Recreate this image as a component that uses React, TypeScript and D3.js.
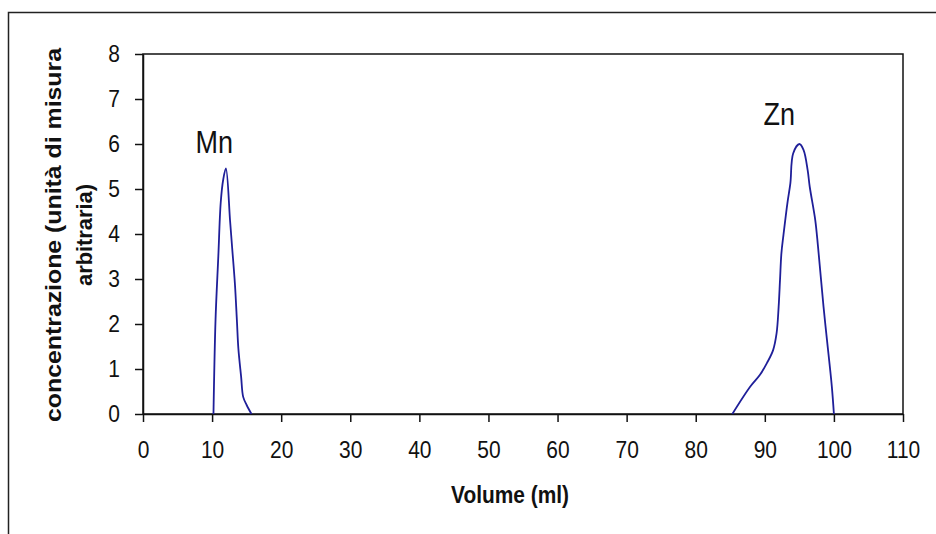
import { useEffect, useRef } from "react";
import * as d3 from "d3";

// Mn peak (volume ml, concentration)
const mnVolume = [10.2, 10.5, 10.9, 11.25, 11.6, 12.0, 12.6, 12.9, 13.3, 13.6, 13.8, 14.2, 14.5, 15.0, 15.7];
const mnConc = [0, 2.1, 3.5, 4.7, 5.2, 5.46, 4.3, 3.7, 2.9, 2.05, 1.46, 0.83, 0.38, 0.2, 0];

// Zn peak
const znVolume = [85.3, 87.9, 89.3, 90.3, 91.2, 91.7, 92.0, 92.2, 92.4, 92.7, 93.3, 93.7, 94.1, 95.0, 95.6, 96.2, 96.5, 97.3, 97.7, 98.5, 99.0, 99.7, 100.0];
const znConc = [0, 0.61, 0.87, 1.13, 1.42, 1.79, 2.38, 2.98, 3.57, 3.98, 4.72, 5.13, 5.79, 6.0, 5.87, 5.42, 5.05, 4.31, 3.72, 2.38, 1.64, 0.61, 0];

const xTicks = [0, 10, 20, 30, 40, 50, 60, 70, 80, 90, 100, 110];
const yTicks = [0, 1, 2, 3, 4, 5, 6, 7, 8];

const peakNames = ["Mn", "Zn"];
const peakLabelX = [10.3, 92.1];
const peakLabelY = [5.8, 6.42];

const xTitle = "Volume (ml)";
const yTitleLines = ["concentrazione (unità di misura", "arbitraria)"];

export default function App() {
    const svgWidth = 936;
    const svgHeight = 534;
    const marginLeft = 143;
    const marginTop = 54;
    const plotW = 760;
    const plotH = 360;

    const ref = useRef<SVGSVGElement>(null);

    useEffect(() => {
        const svg = d3.select(ref.current);
        svg.selectAll("*").remove();

        const x = d3.scaleLinear().domain([0, 110]).range([0, plotW]);
        const y = d3.scaleLinear().domain([0, 8]).range([plotH, 0]);

        // outer chart border
        svg.append("rect")
            .attr("x", 8.5).attr("y", 12.5)
            .attr("width", svgWidth).attr("height", svgHeight)
            .attr("fill", "none").attr("stroke", "#222").attr("stroke-width", 1.5);

        const g = svg.append("g").attr("transform", `translate(${marginLeft},${marginTop})`);

        // plot area border
        g.append("rect")
            .attr("width", plotW).attr("height", plotH)
            .attr("fill", "none").attr("stroke", "#111").attr("stroke-width", 1.5);

        const font = "Arial, 'Liberation Sans', sans-serif";
        const stretch = 1.12;

        // x axis
        const xAxis = g.append("g")
            .attr("transform", `translate(0,${plotH})`)
            .call(d3.axisBottom(x).tickValues(xTicks).tickSize(8).tickSizeOuter(0).tickPadding(20));
        xAxis.select(".domain").attr("stroke", "#111").attr("stroke-width", 1.5);
        xAxis.selectAll(".tick line").attr("stroke", "#111").attr("stroke-width", 1.5);
        xAxis.selectAll(".tick text")
            .attr("y", 27 / stretch)
            .attr("transform", `scale(1,${stretch})`)
            .attr("fill", "#111").style("font-family", font).style("font-size", "21px");

        // y axis
        const yAxis = g.append("g")
            .call(d3.axisLeft(y).tickValues(yTicks).tickSize(8).tickSizeOuter(0).tickPadding(15));
        yAxis.select(".domain").attr("stroke", "#111").attr("stroke-width", 1.5);
        yAxis.selectAll(".tick line").attr("stroke", "#111").attr("stroke-width", 1.5);
        yAxis.selectAll(".tick text")
            .attr("transform", `scale(1,${stretch})`)
            .attr("fill", "#111").style("font-family", font).style("font-size", "21px");

        // peaks
        const line = d3.line<[number, number]>()
            .x(d => x(d[0]))
            .y(d => y(d[1]))
            .curve(d3.curveCatmullRom.alpha(0.5));

        const series = [
            mnVolume.map((v, i) => [v, mnConc[i]] as [number, number]),
            znVolume.map((v, i) => [v, znConc[i]] as [number, number]),
        ];
        series.forEach(s => {
            g.append("path")
                .datum(s)
                .attr("fill", "none")
                .attr("stroke", "#1f1f99")
                .attr("stroke-width", 1.8)
                .attr("d", line);
        });

        // peak labels
        peakNames.forEach((name, i) => {
            g.append("text")
                .attr("transform", `translate(${x(peakLabelX[i])},${y(peakLabelY[i])}) scale(1,1.18)`)
                .attr("text-anchor", "middle")
                .style("font-family", font)
                .style("font-size", "27px")
                .attr("fill", "#111")
                .text(name);
        });

        // x title
        svg.append("text")
            .attr("transform", "translate(510,503) scale(1,1.15)")
            .attr("text-anchor", "middle")
            .attr("textLength", 118)
            .attr("lengthAdjust", "spacingAndGlyphs")
            .style("font-family", font)
            .style("font-weight", "bold")
            .style("font-size", "21px")
            .attr("fill", "#111")
            .text(xTitle);

        // y title (two lines)
        const yBase = [61, 92];
        const yLen = [374, 102];
        yTitleLines.forEach((t, i) => {
            svg.append("text")
                .attr("transform", `translate(${yBase[i]},235) rotate(-90)`)
                .attr("text-anchor", "middle")
                .attr("textLength", yLen[i])
                .attr("lengthAdjust", "spacingAndGlyphs")
                .style("font-family", font)
                .style("font-weight", "bold")
                .style("font-size", "22px")
                .attr("fill", "#111")
                .text(t);
        });
    }, []);

    return (
        <svg
            ref={ref}
            width={svgWidth}
            height={svgHeight}
            style={{ position: "absolute", left: 0, top: 0, background: "#fff" }}
        ></svg>
    );
}
